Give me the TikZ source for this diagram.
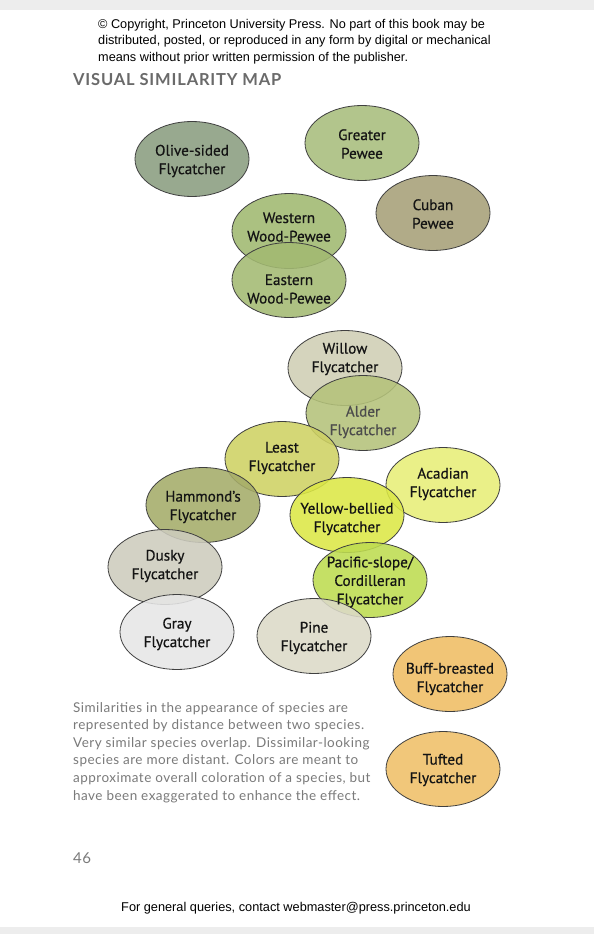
\documentclass[tikz,border=0pt]{standalone}
\usepackage{fontspec}
\setmainfont{Liberation Sans}
\newfontfamily\birdfont[FakeBold=0.6]{PT Sans}
\newfontfamily\capfont[LetterSpace=3.5]{Lato}
\newfontfamily\titlefont[LetterSpace=5]{Lato}
\usetikzlibrary{shapes.geometric}
\definecolor{oliveside}{HTML}{8A9E80}
\definecolor{greater}{HTML}{A8BD7D}
\definecolor{cuban}{HTML}{A7A078}
\definecolor{western}{HTML}{A0B970}
\definecolor{eastern}{HTML}{A3BA72}
\definecolor{willow}{HTML}{D0CFB4}
\definecolor{alder}{HTML}{B4C27A}
\definecolor{least}{HTML}{CFD264}
\definecolor{acadian}{HTML}{E8EE78}
\definecolor{hammond}{HTML}{A5AC69}
\definecolor{yellowb}{HTML}{DCE846}
\definecolor{pacific}{HTML}{BEDC50}
\definecolor{dusky}{HTML}{CDCCBE}
\definecolor{grayfly}{HTML}{E6E6E6}
\definecolor{pine}{HTML}{DCDAC8}
\definecolor{buff}{HTML}{F0BE64}
\definecolor{tufted}{HTML}{F0C068}
\definecolor{captext}{HTML}{7A7A7A}
\definecolor{titletext}{HTML}{6A6A6A}
\begin{document}
\begin{tikzpicture}[x=1pt,y=-1pt,
  bird/.style={ellipse, draw=black!75, line width=0.8pt, minimum width=114pt, minimum height=75pt, inner sep=0pt, fill opacity=0.88},
  lbl/.style={font=\birdfont\fontsize{15.2}{18.5}\selectfont, text=black!92, align=center, inner sep=0pt},
  captxt/.style={font=\capfont\fontsize{13.5}{17.6}\selectfont, text=captext, align=left, inner sep=0pt, anchor=north west}]
\useasboundingbox (0,0) rectangle (594,934);
\fill[white] (0,0) rectangle (594,934);
\fill[black!7] (0,0) rectangle (594,10);
\fill[black!7] (0,927) rectangle (594,934);

\node[anchor=north west, inner sep=0pt, align=left, font=\fontsize{12.7}{16.5}\selectfont] (copy) at (98,19) {© Copyright, Princeton University Press. No part of this book may be\\distributed, posted, or reproduced in any form by digital or mechanical\\means without prior written permission of the publisher.};
\node[anchor=west, inner sep=0pt, font=\titlefont\bfseries\fontsize{16.5}{18}\selectfont, text=titletext] (title) at (73,80) {VISUAL SIMILARITY MAP};

% ellipses
\node[bird, fill=oliveside] (olive) at (192,159) {};
\node[bird, fill=greater] (greater) at (362,143) {};
\node[bird, fill=cuban] (cuban) at (433,213) {};
\node[bird, fill=western] (western) at (289,231) {};
\node[bird, fill=eastern] (eastern) at (289,280) {};
\node[bird, fill=willow] (willow) at (345,368) {};
\node[bird, fill=alder] (alder) at (363,413) {};
\node[bird, fill=least] (least) at (282,459) {};
\node[bird, fill=acadian] (acadian) at (443,485) {};
\node[bird, fill=hammond] (hammond) at (203,505) {};
\node[bird, fill=yellowb] (yellowb) at (347,515) {};
\node[bird, fill=dusky] (dusky) at (165,567) {};
\node[bird, fill=pacific] (pacific) at (370,580) {};
\node[bird, fill=grayfly] (grayf) at (177,632) {};
\node[bird, fill=pine] (pine) at (314,636) {};
\node[bird, fill=buff] (buff) at (450,674) {};
\node[bird, fill=tufted] (tufted) at (443,769) {};

% labels
\node[lbl] (oliveT) at ([yshift=-2pt]olive.center) {Olive-sided\\Flycatcher};
\node[lbl] (greaterT) at ([yshift=-1pt]greater.center) {Greater\\Pewee};
\node[lbl] (cubanT) at ([yshift=-1pt]cuban.center) {Cuban\\Pewee};
\node[lbl] (westernT) at ([yshift=4pt]western.center) {Western\\Wood-Pewee};
\node[lbl] (easternT) at ([yshift=-9pt]eastern.center) {Eastern\\Wood-Pewee};
\node[lbl] (willowT) at ([yshift=9pt]willow.center) {Willow\\Flycatcher};
\node[lbl, text=black!70] (alderT) at ([yshift=-9pt]alder.center) {Alder\\Flycatcher};
\node[lbl] (leastT) at ([yshift=1pt]least.center) {Least\\Flycatcher};
\node[lbl] (acadianT) at ([yshift=1pt]acadian.center) {Acadian\\Flycatcher};
\node[lbl] (hammondT) at ([yshift=-2pt]hammond.center) {Hammond’s\\Flycatcher};
\node[lbl] (yellowbT) at ([yshift=-4pt]yellowb.center) {Yellow-bellied\\Flycatcher};
\node[lbl] (duskyT) at ([yshift=1pt]dusky.center) {Dusky\\Flycatcher};
\node[lbl] (pacificT) at ([yshift=-2pt]pacific.center) {Pacific-slope/\\Cordilleran\\Flycatcher};
\node[lbl] (grayT) at ([yshift=-2pt]grayf.center) {Gray\\Flycatcher};
\node[lbl] (pineT) at ([yshift=-2pt]pine.center) {Pine\\Flycatcher};
\node[lbl] (buffT) at ([yshift=-5pt]buff.center) {Buff-breasted\\Flycatcher};
\node[lbl] (tuftedT) at ([yshift=-1pt]tufted.center) {Tufted\\Flycatcher};

\node[captxt] (caption) at (73,702) {Similarities in the appearance of species are\\represented by distance between two species.\\Very similar species overlap. Dissimilar-looking\\species are more distant. Colors are meant to\\approximate overall coloration of a species, but\\have been exaggerated to enhance the effect.};
\node[anchor=west, inner sep=0pt, font=\capfont\fontsize{15}{18}\selectfont, text=captext] (page) at (73,858) {46};
\node[inner sep=0pt, font=\fontsize{12.75}{14}\selectfont] (footer) at (296,908) {For general queries, contact webmaster@press.princeton.edu};
\end{tikzpicture}
\end{document}
